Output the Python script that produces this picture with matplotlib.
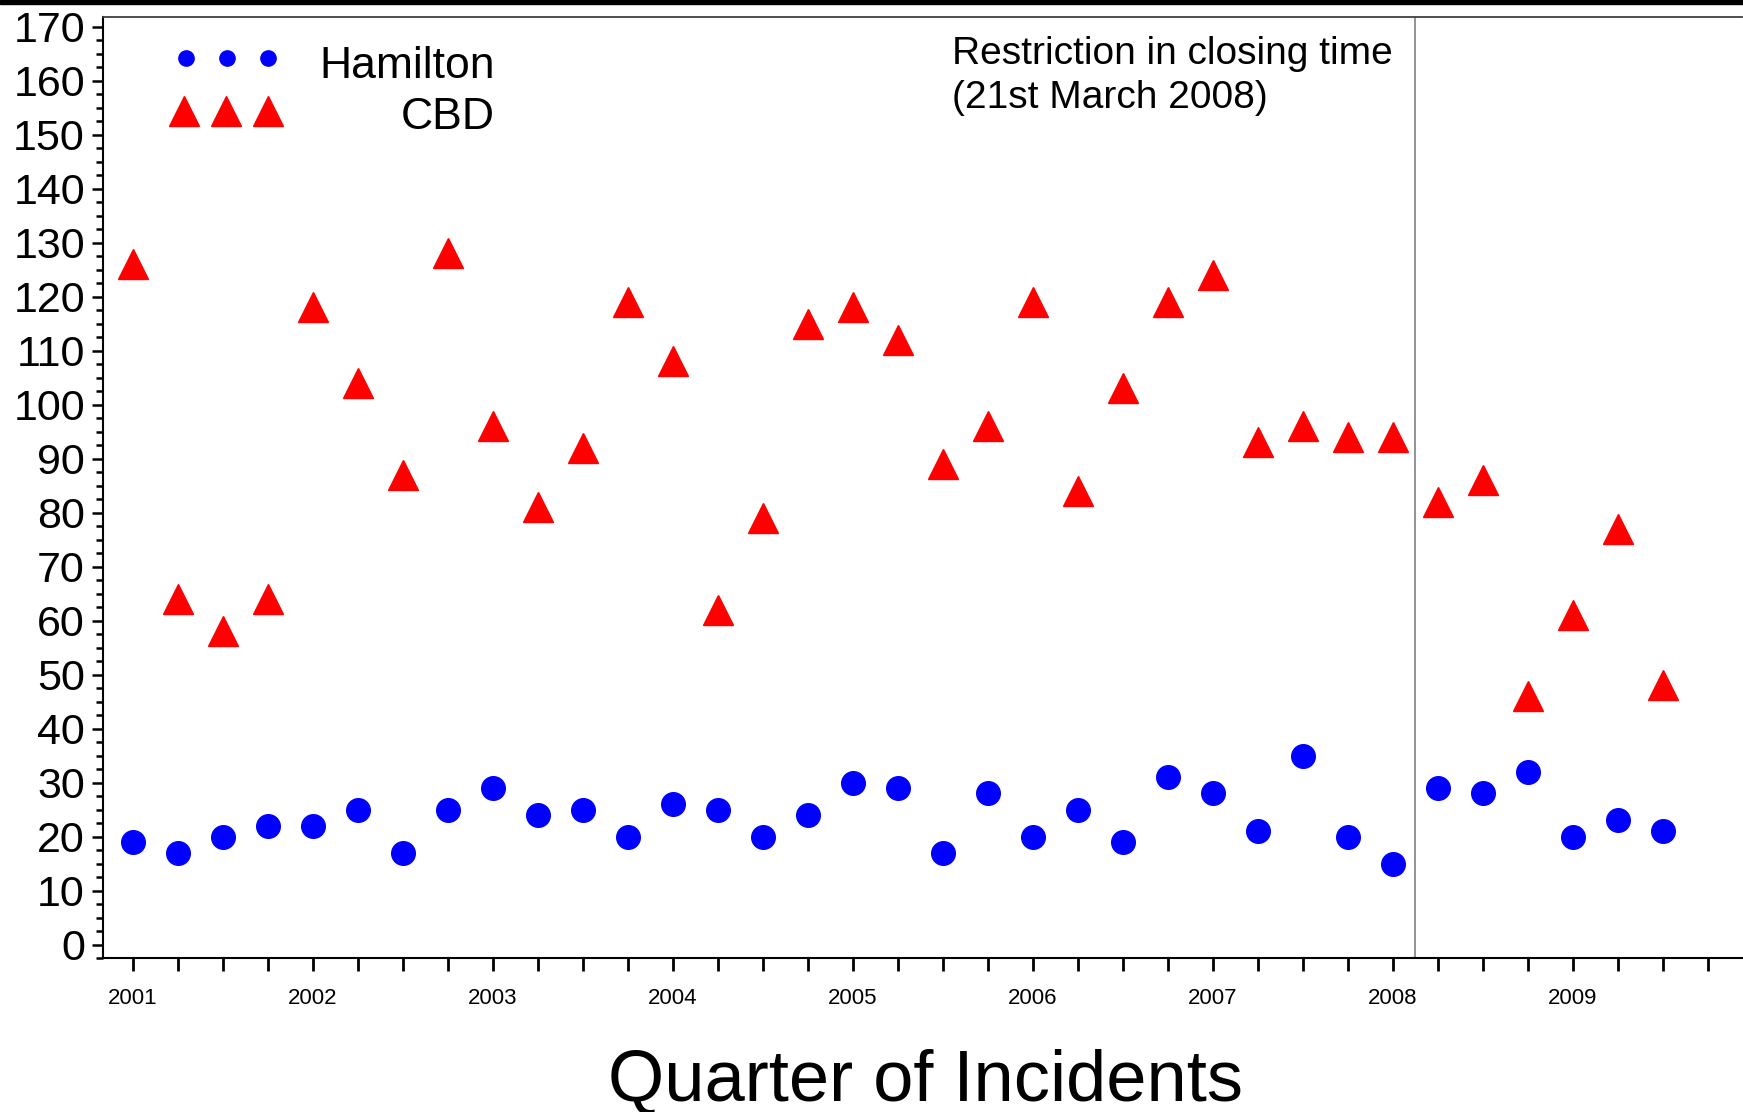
import numpy as np
import matplotlib
matplotlib.use("Agg")
import matplotlib.pyplot as plt
from matplotlib.lines import Line2D
from matplotlib.patches import Rectangle
from matplotlib.ticker import MultipleLocator

plt.rcParams['font.family'] = ['Liberation Sans', 'DejaVu Sans']

# ---- data ----
years = ['2001', '2002', '2003', '2004', '2005', '2006', '2007', '2008', '2009']
quarters = np.arange(35)  # 2001 Q1 .. 2009 Q3
hamilton = [19, 17, 20, 22, 22, 25, 17, 25, 29, 24, 25, 20, 26, 25, 20, 24,
            30, 29, 17, 28, 20, 25, 19, 31, 28, 21, 35, 20, 15, 29, 28, 32,
            20, 23, 21]
cbd = [126, 64, 58, 64, 118, 104, 87, 128, 96, 81, 92, 119, 108, 62, 79, 115,
       118, 112, 89, 96, 119, 84, 103, 119, 124, 93, 96, 94, 94, 82, 86, 46,
       61, 77, 48]
restriction_quarter = 28.5  # between 2008 Q1 and Q2 (21st March 2008)
n_ticks = 36

W, H = 1743, 1112
fig = plt.figure(figsize=(W / 100, H / 100), dpi=100)
L, R, T, B = 103, 1742, 17, 958
ax = fig.add_axes([L / W, (H - B) / H, (R - L) / W, (B - T) / H])

blue = '#0000FF'
red = '#FF0000'

ax.plot(quarters, cbd, ls='', marker='^', ms=21, color=red, mec=red)
ax.plot(quarters, hamilton, ls='', marker='o', ms=17, color=blue, mec=blue)

ax.axvline(restriction_quarter, color='#808080', lw=1.2)

ax.set_xlim(-0.667, 35.76)
ax.set_ylim(-2.5, 171.76)

ax.set_yticks(np.arange(0, 171, 10))
ax.yaxis.set_minor_locator(MultipleLocator(2.5))
ax.set_xticks(np.arange(n_ticks))
xl = [''] * n_ticks
for i, y in enumerate(years):
    xl[i * 4] = y
ax.set_xticklabels(xl)

ax.tick_params(axis='y', which='major', length=8, width=1.8, labelsize=31, pad=5)
ax.tick_params(axis='y', which='minor', length=5, width=1.8)
ax.tick_params(axis='x', which='major', length=9.5, width=2, labelsize=16, pad=12)

for s in ['left', 'bottom']:
    ax.spines[s].set_linewidth(1.5)
    ax.spines[s].set_color('black')
ax.spines['right'].set_visible(False)
ax.spines['top'].set_color('#404040')
ax.spines['top'].set_linewidth(1.3)

# top black bar
fig.patches.append(Rectangle((0, 1 - 3.5 / H), 1, 3.5 / H, transform=fig.transFigure,
                             color='black', zorder=10))

# annotation
fig.text(951.5 / W, 1 - 64.5 / H, 'Restriction in closing time', fontsize=28,
         va='baseline', ha='left')
fig.text(951.5 / W, 1 - 108 / H, '(21st March 2008)', fontsize=28,
         va='baseline', ha='left')

# manual legend
for xp in [185.6, 226.8, 268]:
    fig.add_artist(Line2D([xp / W], [1 - 57.8 / H], transform=fig.transFigure,
                          marker='o', ms=11, color=blue, ls=''))
for xp in [184, 226, 268]:
    fig.add_artist(Line2D([xp / W], [1 - 111 / H], transform=fig.transFigure,
                          marker='^', ms=21, color=red, ls=''))
fig.text(494.7 / W, 1 - 77.8 / H, 'Hamilton', fontsize=32, ha='right', va='baseline')
fig.text(494.7 / W, 1 - 129 / H, 'CBD', fontsize=32, ha='right', va='baseline')

# x label
fig.text(926 / W, 1 - 1100 / H, 'Quarter of Incidents', fontsize=52,
         ha='center', va='baseline')

fig.savefig('out.png', dpi=100, facecolor='white')
